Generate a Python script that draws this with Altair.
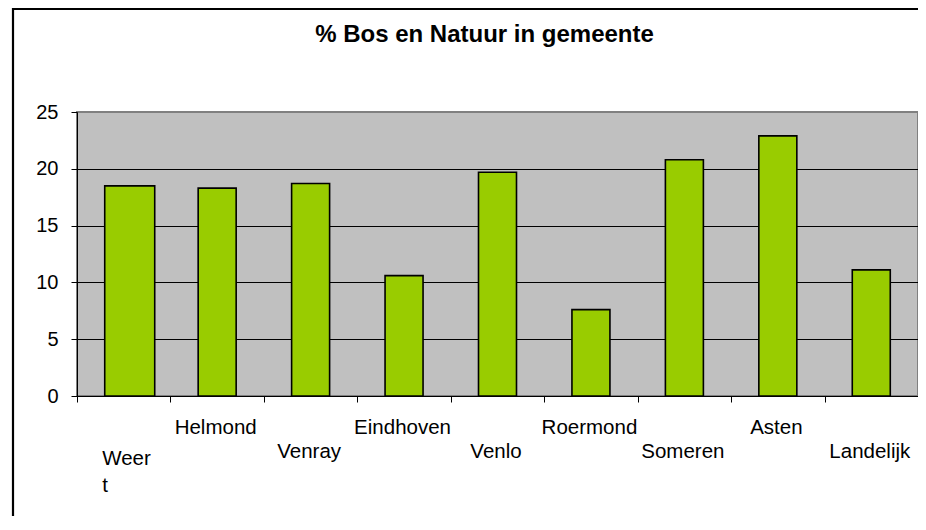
import altair as alt
import pandas as pd

# ---- data ----
categories = ["Weert", "Helmond", "Venray", "Eindhoven", "Venlo",
              "Roermond", "Someren", "Asten", "Landelijk"]
values = [18.5, 18.3, 18.7, 10.6, 19.7, 7.6, 20.8, 22.9, 11.1]
y_ticks = [0, 5, 10, 15, 20, 25]
title_text = "% Bos en Natuur in gemeente"
upper_row = ["Helmond", "Eindhoven", "Roermond", "Asten"]
wide_bar = ["Weert"]

df = pd.DataFrame({"gemeente": categories, "pct": values})

W, H = 841, 284
FONT = "Liberation Sans"

upper_js = "[" + ",".join("'%s'" % c for c in upper_row) + "]"
wide_js = "[" + ",".join("'%s'" % c for c in wide_bar) + "]"
is_wide = "indexof(%s, datum.value) >= 0" % wide_js

x_scale = alt.Scale(domain=categories, paddingInner=0, paddingOuter=0)
y_scale = alt.Scale(domain=[0, 25], nice=False)

x_axis = alt.Axis(
    title=None,
    labelAngle=0,
    labelFont=FONT,
    labelFontSize=20.5,
    labelColor="black",
    labelOverlap=False,
    labelLimit=0,
    labelBaseline="top",
    labelLineHeight=27,
    labelExpr="datum.value == 'Weert' ? ['Weer', 't'] : datum.label",
    labelPadding={"condition": [
        {"test": is_wide, "value": 46},
        {"test": "indexof(%s, datum.value) >= 0" % upper_js, "value": 15}],
        "value": 39},
    labelAlign={"condition": {"test": is_wide, "value": "left"}, "value": "center"},
    labelOffset={"condition": {"test": is_wide, "value": -22}, "value": -2},
    tickBand="extent",
    tickSize=6,
    tickColor="black",
    domainColor="black",
    domainWidth=1,
    grid=False,
)

y_axis = alt.Axis(
    title=None,
    values=y_ticks,
    labelFont=FONT,
    labelFontSize=20,
    labelColor="black",
    labelPadding=13,
    tickSize=6,
    tickColor="black",
    domainColor="black",
    grid=True,
    gridColor={"condition": {"test": "datum.value === 25", "value": "#808080"},
               "value": "black"},
    gridWidth=1,
)

base = alt.Chart(df)

bars = base.mark_bar(size=38, fill="#99CC00", stroke="black", strokeWidth=1.6).encode(
    x=alt.X("gemeente:N", scale=x_scale, axis=x_axis, sort=categories),
    y=alt.Y("pct:Q", scale=y_scale, axis=y_axis),
).transform_filter(
    ~alt.FieldOneOfPredicate(field="gemeente", oneOf=wide_bar)
)

bars_wide = base.mark_bar(size=50, xOffset=6, fill="#99CC00", stroke="black",
                          strokeWidth=1.6).encode(
    x=alt.X("gemeente:N", scale=x_scale, sort=categories),
    y=alt.Y("pct:Q", scale=y_scale),
).transform_filter(
    alt.FieldOneOfPredicate(field="gemeente", oneOf=wide_bar)
)

frame = alt.Chart(pd.DataFrame({"f": [0]})).mark_rect(
    fillOpacity=0, stroke="black", strokeWidth=2.2
).encode(
    x=alt.value(-64), y=alt.value(-103),
    x2=alt.value(W + 200), y2=alt.value(H + 300),
)

chart = alt.layer(frame, bars, bars_wide).properties(
    width=W,
    height=H,
    background="white",
    title=alt.TitleParams(
        text=title_text,
        font=FONT,
        fontSize=24,
        fontWeight="bold",
        color="black",
        anchor="middle",
        dx=-13,
        offset=0,
        dy=39,
    ),
    autosize=alt.AutoSizeParams(type="none"),
    padding={"left": 69, "top": 104, "right": 0, "bottom": 120},
).configure_view(
    fill="#C0C0C0",
    stroke="#808080",
    strokeWidth=2,
)

chart.save("out.html", embed_options={"renderer": "svg", "actions": False})
